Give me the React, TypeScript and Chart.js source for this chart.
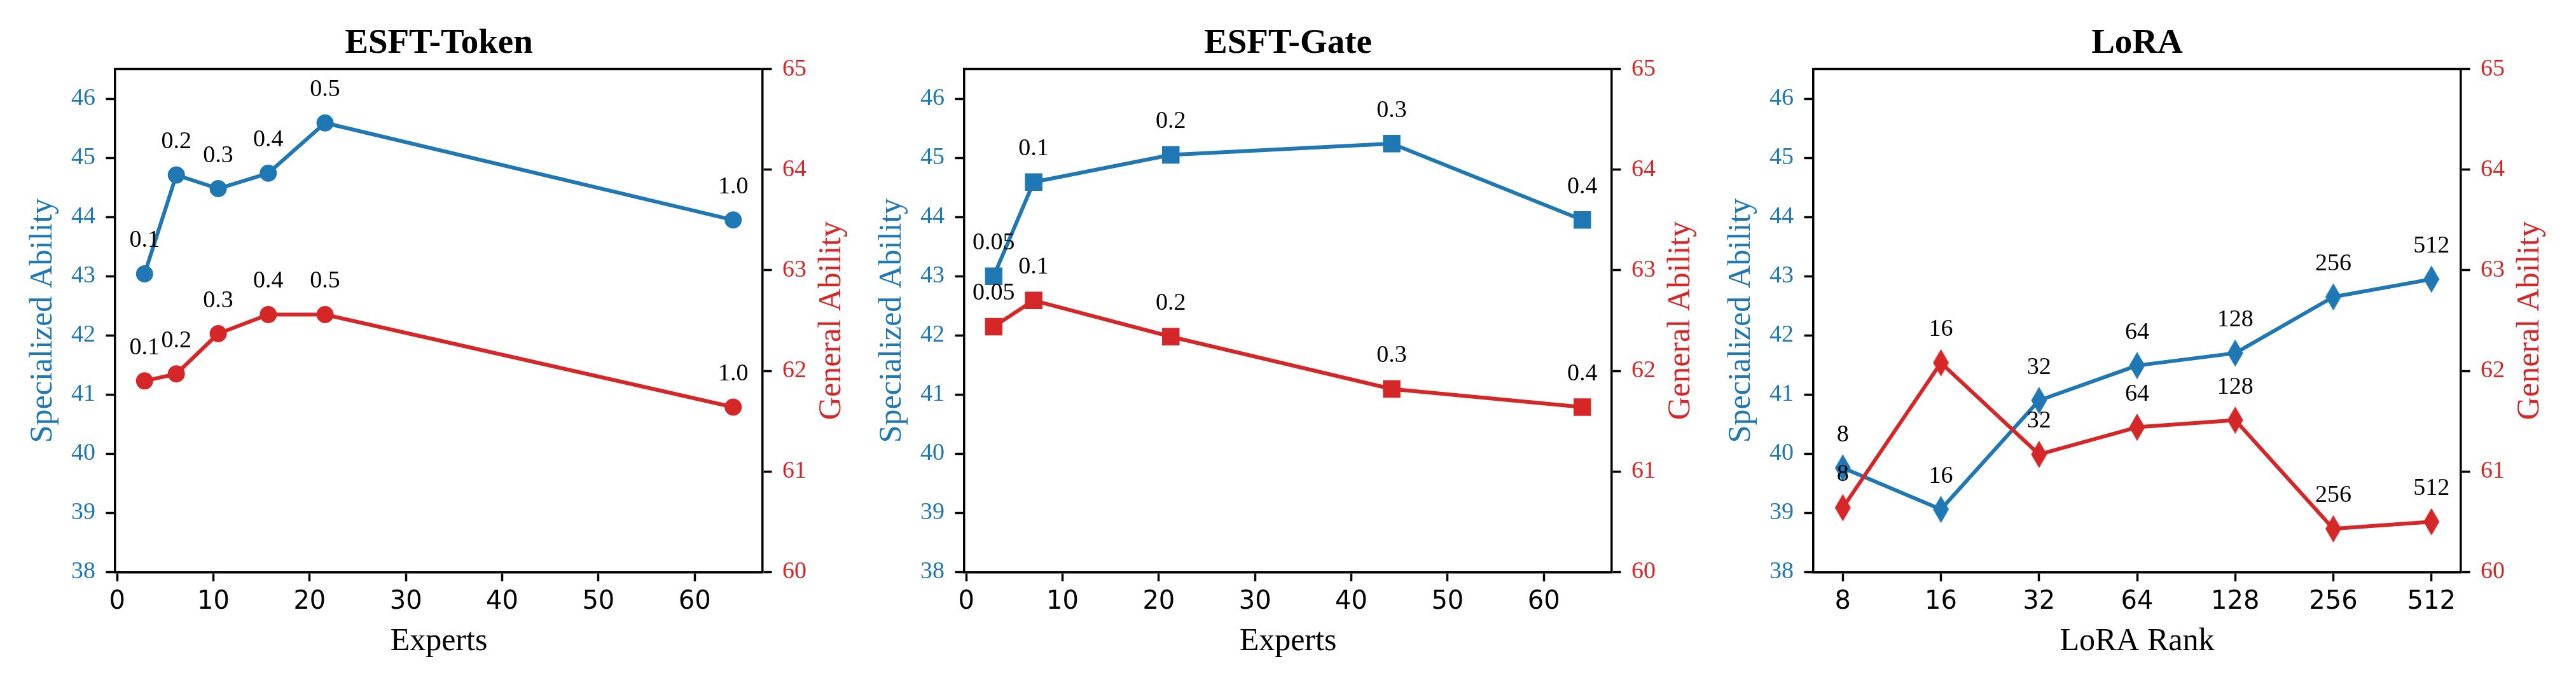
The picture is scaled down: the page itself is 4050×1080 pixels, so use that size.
import React, { useEffect, useRef } from "react";
import { Chart, registerables } from "chart.js";

Chart.register(...registerables);

// ---------------- data ----------------
const tokenExperts = [2.85, 6.15, 10.5, 15.7, 21.6, 64];
const tokenSpecialized = [43.04, 44.71, 44.48, 44.74, 45.59, 43.95];
const tokenGeneral = [61.9, 61.97, 62.37, 62.56, 62.56, 61.64];
const tokenThresholds = ["0.1", "0.2", "0.3", "0.4", "0.5", "1.0"];

const gateExperts = [2.85, 7.0, 21.25, 44.2, 64];
const gateSpecialized = [43.0, 44.59, 45.05, 45.24, 43.95];
const gateGeneral = [62.44, 62.7, 62.34, 61.82, 61.64];
const gateThresholds = ["0.05", "0.1", "0.2", "0.3", "0.4"];

const loraRanks = ["8", "16", "32", "64", "128", "256", "512"];
const loraSpecialized = [39.76, 39.06, 40.9, 41.49, 41.7, 42.65, 42.95];
const loraGeneral = [60.64, 62.08, 61.17, 61.44, 61.51, 60.43, 60.5];

const expertTicks = [0, 10, 20, 30, 40, 50, 60];
const specializedTicks = [38, 39, 40, 41, 42, 43, 44, 45, 46];
const generalTicks = [60, 61, 62, 63, 64, 65];

// ---------------- style ----------------
const BLUE = "#1f77b4";
const RED = "#d62728";
const SERIF = '"Liberation Serif", "Times New Roman", serif';
const SANS = '"DejaVu Sans", sans-serif';

const CANVAS_W = 1350;
const CANVAS_H = 1080;
const AREA_LEFT = 181;
const AREA_RIGHT = 1199;
const AREA_TOP = 108.6;
const AREA_BOTTOM = 899.3;

type Marker = "circle" | "rect" | "diamond";

interface PanelSpec {
  title: string;
  xTitle: string;
  xs: number[];
  specialized: number[];
  general: number[];
  labels: string[];
  xMin: number;
  xMax: number;
  xTicks: number[];
  xTickLabel: (v: number) => string;
  marker: Marker;
}

function makeDiamond(color: string): HTMLCanvasElement {
  const c = document.createElement("canvas");
  c.width = 26;
  c.height = 44;
  const g = c.getContext("2d")!;
  g.fillStyle = color;
  g.beginPath();
  g.moveTo(13, 0.5);
  g.lineTo(25.5, 22);
  g.lineTo(13, 43.5);
  g.lineTo(0.5, 22);
  g.closePath();
  g.fill();
  return c;
}

function pointOpts(marker: Marker, color: string) {
  if (marker === "diamond") {
    return { pointStyle: makeDiamond(color), pointRadius: 13, pointBorderWidth: 0 };
  }
  if (marker === "rect") {
    return { pointStyle: "rect", pointRadius: 18, pointBorderWidth: 2 };
  }
  return { pointStyle: "circle", pointRadius: 12.5, pointBorderWidth: 2 };
}

const tickGrid = {
  display: true,
  drawOnChartArea: false,
  drawTicks: true,
  tickLength: 14.5,
  tickWidth: 3.5,
  tickColor: "#000",
};
const axisBorder = { display: true, color: "#000", width: 3.5 };

function Panel({ spec, left }: { spec: PanelSpec; left: number }) {
  const ref = useRef<HTMLCanvasElement | null>(null);

  useEffect(() => {
    const canvas = ref.current;
    if (!canvas) return;

    const textPlugin = {
      id: "panelText",
      afterDatasetsDraw(chart: any) {
        const ctx = chart.ctx as CanvasRenderingContext2D;
        ctx.save();
        ctx.fillStyle = "#000";
        ctx.font = `38px ${SERIF}`;
        ctx.textAlign = "center";
        ctx.textBaseline = "alphabetic";
        [1, 0].forEach((d) => {
          const meta = chart.getDatasetMeta(d);
          meta.data.forEach((pt: any, i: number) => {
            ctx.fillText(spec.labels[i], pt.x, pt.y - 42);
          });
        });
        ctx.restore();
      },
      afterDraw(chart: any) {
        const ctx = chart.ctx as CanvasRenderingContext2D;
        const a = chart.chartArea;
        const cx = (a.left + a.right) / 2;
        const cy = (a.top + a.bottom) / 2;
        ctx.save();
        // top spine
        ctx.strokeStyle = "#000";
        ctx.lineWidth = 3.5;
        ctx.beginPath();
        ctx.moveTo(a.left - 1.75, a.top);
        ctx.lineTo(a.right + 1.75, a.top);
        ctx.stroke();
        // title
        ctx.fillStyle = "#000";
        ctx.textAlign = "center";
        ctx.textBaseline = "alphabetic";
        ctx.font = `bold 55px ${SERIF}`;
        ctx.fillText(spec.title, cx, 83);
        // x title
        ctx.font = `50px ${SERIF}`;
        ctx.fillText(spec.xTitle, cx, 1022);
        // left title
        ctx.save();
        ctx.translate(a.left - 100, cy);
        ctx.rotate(-Math.PI / 2);
        ctx.fillStyle = BLUE;
        ctx.fillText("Specialized Ability", 0, 0);
        ctx.restore();
        // right title
        ctx.save();
        ctx.translate(a.right + 122, cy);
        ctx.rotate(-Math.PI / 2);
        ctx.fillStyle = RED;
        ctx.fillText("General Ability", 0, 0);
        ctx.restore();
        ctx.restore();
      },
    };

    const chart = new Chart(canvas, {
      type: "line",
      data: {
        datasets: [
          {
            label: "General Ability",
            data: spec.xs.map((x, i) => ({ x, y: spec.general[i] })),
            yAxisID: "y1",
            xAxisID: "x",
            borderColor: RED,
            backgroundColor: RED,
            pointBackgroundColor: RED,
            pointBorderColor: RED,
            borderWidth: 6,
            borderJoinStyle: "round",
            tension: 0,
            order: 0,
            ...pointOpts(spec.marker, RED),
          } as any,
          {
            label: "Specialized Ability",
            data: spec.xs.map((x, i) => ({ x, y: spec.specialized[i] })),
            yAxisID: "y",
            xAxisID: "x",
            borderColor: BLUE,
            backgroundColor: BLUE,
            pointBackgroundColor: BLUE,
            pointBorderColor: BLUE,
            borderWidth: 6,
            borderJoinStyle: "round",
            tension: 0,
            order: 1,
            ...pointOpts(spec.marker, BLUE),
          } as any,
        ],
      },
      options: {
        responsive: false,
        animation: false,
        devicePixelRatio: 1,
        events: [],
        layout: { padding: { top: AREA_TOP, left: 0, right: 0, bottom: 0 } },
        plugins: {
          legend: { display: false },
          tooltip: { enabled: false },
          title: { display: false },
        },
        scales: {
          x: {
            type: "linear",
            position: "bottom",
            min: spec.xMin,
            max: spec.xMax,
            afterBuildTicks: (s: any) => {
              s.ticks = spec.xTicks.map((v) => ({ value: v }));
            },
            afterFit: (s: any) => {
              s.height = CANVAS_H - AREA_BOTTOM;
            },
            ticks: {
              font: { family: SANS, size: 40 },
              color: "#000",
              padding: 8.4,
              autoSkip: false,
              maxRotation: 0,
              minRotation: 0,
              callback: (v: any) => spec.xTickLabel(Number(v)),
            },
            grid: tickGrid,
            border: axisBorder,
          },
          y: {
            type: "linear",
            position: "left",
            min: 38,
            max: 46.5,
            afterBuildTicks: (s: any) => {
              s.ticks = specializedTicks.map((v) => ({ value: v }));
            },
            afterFit: (s: any) => {
              s.width = AREA_LEFT;
            },
            ticks: {
              font: { family: SERIF, size: 38 },
              color: BLUE,
              padding: 16.5,
              autoSkip: false,
              callback: (v: any) => String(v),
            },
            grid: tickGrid,
            border: axisBorder,
          },
          y1: {
            type: "linear",
            position: "right",
            min: 60,
            max: 65,
            afterBuildTicks: (s: any) => {
              s.ticks = generalTicks.map((v) => ({ value: v }));
            },
            afterFit: (s: any) => {
              s.width = CANVAS_W - AREA_RIGHT;
            },
            ticks: {
              font: { family: SERIF, size: 38 },
              color: RED,
              padding: 16.5,
              autoSkip: false,
              callback: (v: any) => String(v),
            },
            grid: tickGrid,
            border: axisBorder,
          },
        },
      } as any,
      plugins: [textPlugin],
    });

    return () => {
      chart.destroy();
    };
  }, [spec]);

  return (
    <canvas
      ref={ref}
      width={CANVAS_W}
      height={CANVAS_H}
      style={{
        position: "absolute",
        left,
        top: 0,
        width: CANVAS_W,
        height: CANVAS_H,
      }}
    />
  );
}

const panels: PanelSpec[] = [
  {
    title: "ESFT-Token",
    xTitle: "Experts",
    xs: tokenExperts,
    specialized: tokenSpecialized,
    general: tokenGeneral,
    labels: tokenThresholds,
    xMin: -0.21,
    xMax: 67.06,
    xTicks: expertTicks,
    xTickLabel: (v) => String(v),
    marker: "circle",
  },
  {
    title: "ESFT-Gate",
    xTitle: "Experts",
    xs: gateExperts,
    specialized: gateSpecialized,
    general: gateGeneral,
    labels: gateThresholds,
    xMin: -0.21,
    xMax: 67.06,
    xTicks: expertTicks,
    xTickLabel: (v) => String(v),
    marker: "rect",
  },
  {
    title: "LoRA",
    xTitle: "LoRA Rank",
    xs: loraRanks.map((_, i) => i),
    specialized: loraSpecialized,
    general: loraGeneral,
    labels: loraRanks,
    xMin: -0.3,
    xMax: loraRanks.length - 1 + 0.3,
    xTicks: loraRanks.map((_, i) => i),
    xTickLabel: (v) => loraRanks[v] ?? "",
    marker: "diamond",
  },
];

const offsets = [0, 1335, 2670];

export default function App() {
  return (
    <div
      style={{
        position: "absolute",
        left: 0,
        top: 0,
        width: 4050,
        height: 1080,
        background: "#fff",
        overflow: "hidden",
      }}
    >
      {panels.map((p, i) => (
        <Panel key={p.title} spec={p} left={offsets[i]} />
      ))}
    </div>
  );
}
